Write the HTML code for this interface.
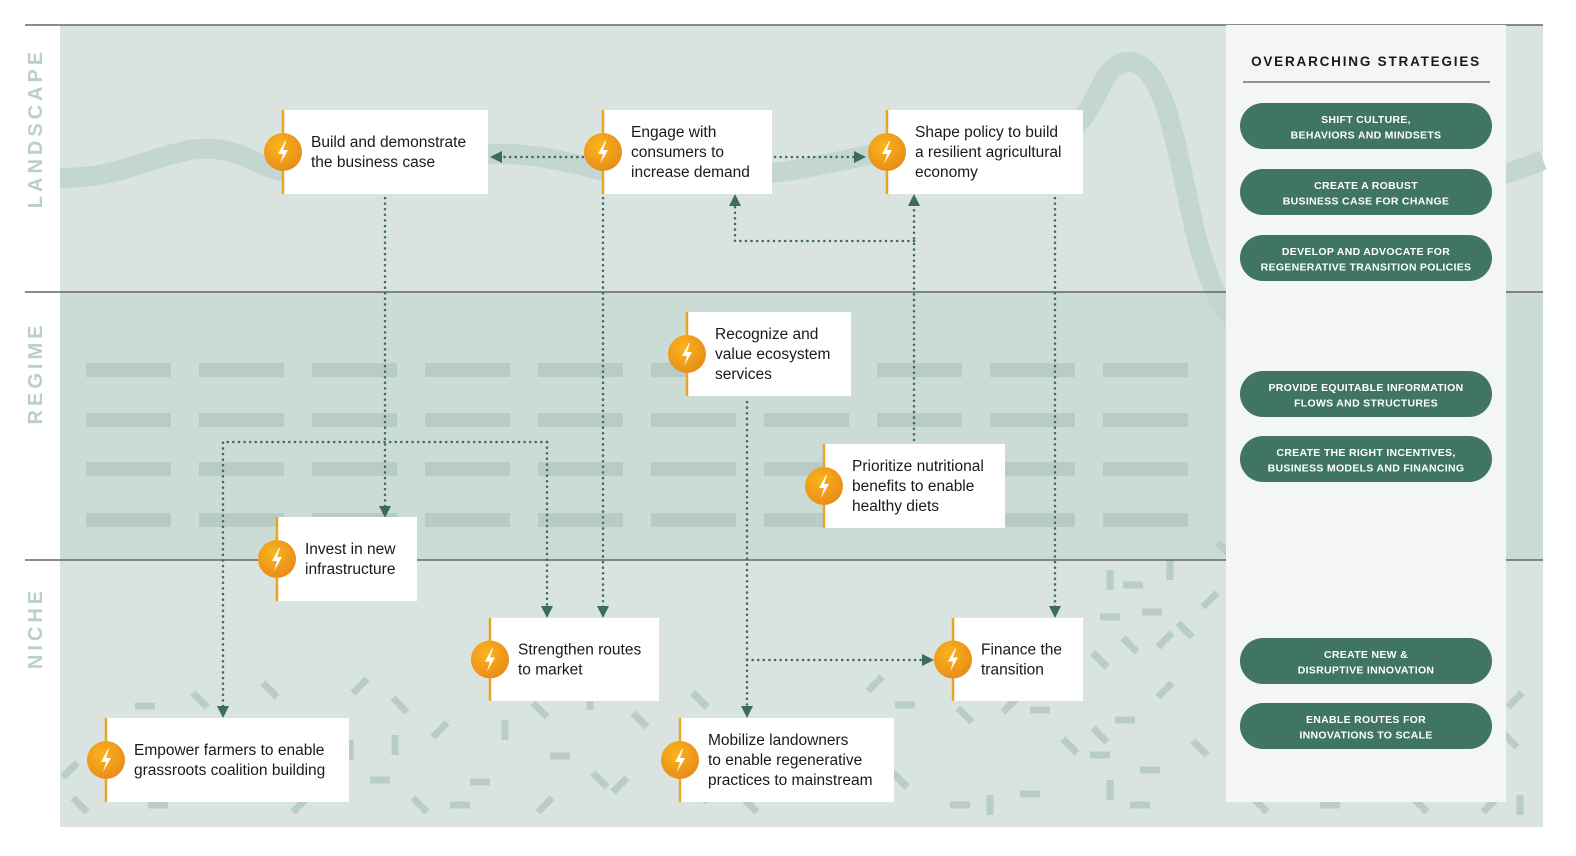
<!DOCTYPE html>
<html><head><meta charset="utf-8"><style>
html,body{margin:0;padding:0;background:#fff;overflow:hidden;width:1576px;height:856px;}
svg{display:block;font-family:"Liberation Sans",sans-serif;}
</style></head><body>
<svg id="d" width="1576" height="856" viewBox="0 0 1576 856" xmlns="http://www.w3.org/2000/svg">
<defs>
<radialGradient id="ig" cx="0.4" cy="0.35" r="0.7"><stop offset="0" stop-color="#f9b51c"/><stop offset="1" stop-color="#e88a1a"/></radialGradient>
<marker id="ah" markerWidth="12" markerHeight="12" refX="6" refY="6" orient="auto" markerUnits="userSpaceOnUse"><path d="M0,0 L12,6 L0,12 Z" fill="#3e6c5b"/></marker>
</defs>
<rect x="60" y="25" width="1483" height="267" fill="#d9e4e0"/>
<rect x="60" y="292" width="1483" height="268" fill="#cbdcd6"/>
<rect x="60" y="560" width="1483" height="267" fill="#d9e4e0"/>
<g id="regdash"></g>
<g id="conf"></g>
<path d="M60,178 C120,178 140,160 190,150 C240,142 255,170 300,175 C360,182 420,160 470,155 C520,150 560,160 600,170 C660,185 720,180 780,172 C830,165 860,155 900,150 C960,142 1030,150 1070,130 C1100,110 1100,60 1130,62 C1170,64 1180,180 1200,250 C1215,300 1230,330 1260,330" fill="none" stroke="#c3d6cf" stroke-width="20"/>
<path d="M1500,175 C1520,170 1530,165 1543,160" fill="none" stroke="#c3d6cf" stroke-width="20"/>
<line x1="25" y1="25" x2="1543" y2="25" stroke="#666" stroke-width="1.5"/>
<line x1="25" y1="292" x2="1543" y2="292" stroke="#666" stroke-width="1.5"/>
<line x1="25" y1="560" x2="1543" y2="560" stroke="#666" stroke-width="1.5"/>
<rect x="1226" y="25" width="280" height="777" fill="#f3f6f5"/>
<g fill="#b9cfc8" font-weight="bold" font-size="20" letter-spacing="4" text-anchor="middle">
<text transform="translate(42,128) rotate(-90)">LANDSCAPE</text>
<text transform="translate(42,373) rotate(-90)">REGIME</text>
<text transform="translate(42,628) rotate(-90)">NICHE</text>
</g>
<g id="arrows" fill="none" stroke="#3e6c5b" stroke-width="2.5" stroke-dasharray="0.1 5.5" stroke-linecap="round">
<path d="M583,157 L496,157" marker-end="url(#ah)"/>
<path d="M775,157 L860,157" marker-end="url(#ah)"/>
<path d="M385,198 L385,512" marker-end="url(#ah)"/>
<path d="M603,198 L603,612" marker-end="url(#ah)"/>
<path d="M1055,198 L1055,612" marker-end="url(#ah)"/>
<path d="M914,440 L914,200" marker-end="url(#ah)"/>
<path d="M914,241 L735,241 L735,200" marker-end="url(#ah)"/>
<path d="M747,402 L747,712" marker-end="url(#ah)"/>
<path d="M747,660 L928,660" marker-end="url(#ah)"/>
<path d="M547,442 L223,442 L223,712" marker-end="url(#ah)"/>
<path d="M547,442 L547,612" marker-end="url(#ah)"/>
</g>
<g id="boxes"></g>
<text x="1366" y="66" text-anchor="middle" font-size="13.5" font-weight="bold" letter-spacing="1.8" fill="#1a1a1a">OVERARCHING STRATEGIES</text>
<line x1="1243" y1="82" x2="1490" y2="82" stroke="#555" stroke-width="1.2"/>
<g id="pills"></g>
</svg>
<script>
var NS="http://www.w3.org/2000/svg";
function mk(t,a,p){var e=document.createElementNS(NS,t);for(var k in a)e.setAttribute(k,a[k]);p.appendChild(e);return e;}
var rd=document.getElementById('regdash');
[370,420,469,520].forEach(function(y){for(var i=0;i<10;i++){var r=mk('rect',{x:86+i*113,y:y-7,width:85,height:14,fill:'#b8ccc5'},rd);

}});
var conf=document.getElementById('conf');
var pieces=[[70,770,-45],[80,805,45],[145,706,0],[148,750,-45],[158,805,0],[200,700,45],[240,745,90],[255,755,-45],[270,690,45],[280,790,90],[300,805,-45],[350,750,90],[360,686,-45],[380,780,0],[400,705,45],[395,745,90],[420,805,45],[440,730,-45],[460,805,0],[480,782,0],[505,730,90],[520,690,0],[540,710,45],[545,805,-45],[560,756,0],[590,700,90],[600,780,45],[620,785,-45],[640,720,45],[700,700,45],[710,795,-45],[750,805,45],[875,684,-45],[880,725,0],[890,770,90],[900,780,45],[905,705,0],[965,715,45],[1010,705,-45],[1040,710,0],[1070,746,45],[1030,794,0],[1100,735,45],[1110,790,90],[1125,720,0],[1165,690,-45],[1185,630,45],[1110,617,0],[1133,585,0],[1152,612,0],[1170,570,90],[1165,640,-45],[1100,660,45],[1130,645,45],[1200,748,45],[1210,600,-45],[1225,550,45],[1150,770,0],[1100,755,0],[1230,780,90],[1510,740,45],[1515,700,-45],[1520,805,90],[1260,805,45],[1330,805,0],[1420,805,45],[1490,805,-45],[1140,805,0],[990,805,90],[1110,580,90],[1000,680,-45],[960,805,0]];
pieces.forEach(function(p){var r=mk('rect',{x:p[0]-10,y:p[1]-3.5,width:20,height:7,fill:'#b8cdc6',transform:'rotate('+p[2]+' '+p[0]+' '+p[1]+')'},conf);

});
var bx=document.getElementById('boxes');
var boxes=[
['build-box',283,110,205,84,["Build and demonstrate","the business case"]],
['engage-box',603,110,169,84,["Engage with","consumers to","increase demand"]],
['shape-box',887,110,196,84,["Shape policy to build","a resilient agricultural","economy"]],
['recognize-box',687,312,164,84,["Recognize and","value ecosystem","services"]],
['prioritize-box',824,444,181,84,["Prioritize nutritional","benefits to enable","healthy diets"]],
['invest-box',277,517,140,84,["Invest in new","infrastructure"]],
['strengthen-box',490,618,169,83,["Strengthen routes","to market"]],
['finance-box',953,618,130,83,["Finance the","transition"]],
['empower-box',106,718,243,84,["Empower farmers to enable","grassroots coalition building"]],
['mobilize-box',680,718,214,84,["Mobilize landowners","to enable regenerative","practices to mainstream"]]];
boxes.forEach(function(b){
var g=mk('g',{},bx);


mk('rect',{x:b[1],y:b[2],width:b[3],height:b[4],fill:'#fff'},g);
mk('line',{x1:b[1],y1:b[2],x2:b[1],y2:b[2]+b[4],stroke:'#eaa425','stroke-width':2.5},g);
var cy=b[2]+b[4]/2;
var c=mk('circle',{cx:b[1],cy:cy,r:19,fill:'url(#ig)'},g);


mk('path',{d:'M'+(b[1]+2)+','+(cy-11)+' l-7,13 h5 l-3,10 l8,-14 h-5 l3,-9 z',fill:'#fff'},g);
var n=b[5].length, y0=cy-(n-1)*10+5;
b[5].forEach(function(s,i){var t=mk('text',{x:b[1]+28,y:y0+i*20,'font-size':15.5,fill:'#1a1a1a'},g);t.textContent=s;

});
});
var pl=document.getElementById('pills');
var pills=[[126,"SHIFT CULTURE,","BEHAVIORS AND MINDSETS"],[192,"CREATE A ROBUST","BUSINESS CASE FOR CHANGE"],[258,"DEVELOP AND ADVOCATE FOR","REGENERATIVE TRANSITION POLICIES"],[394,"PROVIDE EQUITABLE INFORMATION","FLOWS AND STRUCTURES"],[459,"CREATE THE RIGHT INCENTIVES,","BUSINESS MODELS AND FINANCING"],[661,"CREATE NEW &","DISRUPTIVE INNOVATION"],[726,"ENABLE ROUTES FOR","INNOVATIONS TO SCALE"]];
pills.forEach(function(p){
var g=mk('g',{},pl);


mk('rect',{x:1240,y:p[0]-23,width:252,height:46,rx:23,fill:'#3f7562'},g);
[p[1],p[2]].forEach(function(s,i){var t=mk('text',{x:1366,y:p[0]-3+i*15.5,'text-anchor':'middle','font-size':10.5,'font-weight':'bold',fill:'#fff','letter-spacing':0.3},g);t.textContent=s;

});
});
</script>
</body></html>
